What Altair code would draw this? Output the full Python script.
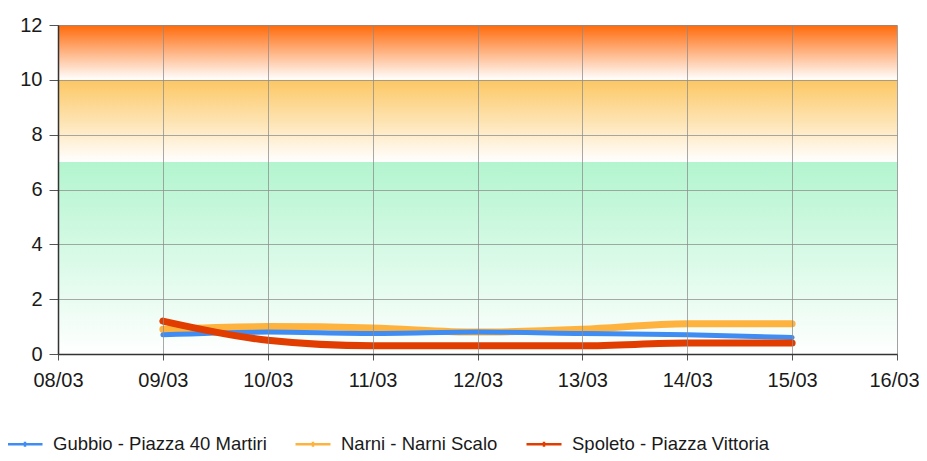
import altair as alt
import pandas as pd

# ---- data ----
x_ticks = ["08/03", "09/03", "10/03", "11/03", "12/03", "13/03", "14/03", "15/03", "16/03"]
dates = ["09/03", "10/03", "11/03", "12/03", "13/03", "14/03", "15/03"]
series_names = ["Gubbio - Piazza 40 Martiri", "Narni - Narni Scalo", "Spoleto - Piazza Vittoria"]
gubbio = [0.7, 0.8, 0.75, 0.8, 0.75, 0.7, 0.6]
narni = [0.9, 1.0, 0.95, 0.8, 0.9, 1.1, 1.1]
spoleto = [1.2, 0.5, 0.3, 0.3, 0.3, 0.4, 0.4]
series_colors = ["#3f8cf3", "#ffb33f", "#e13d00"]
y_ticks = [0, 2, 4, 6, 8, 10, 12]

band_lo = [0, 7, 10]
band_hi = [7, 10, 12]
band_top_colors = ["#b3f5cf", "#fcc763", "#ff6a0a"]

FONT = "Liberation Sans Narrow, Liberation Sans, Arial, sans-serif"

def day(s):
    return int(s[:2])

rows = []
for name, vals in zip(series_names, [gubbio, narni, spoleto]):
    for d, v in zip(dates, vals):
        rows.append({"day": day(d), "value": v, "series": name})
df = pd.DataFrame(rows)

x0, x1 = day(x_ticks[0]), day(x_ticks[-1])
label_arr = "[" + ",".join("'%s'" % t for t in x_ticks) + "]"

x_scale = alt.Scale(domain=[x0, x1], nice=False, zero=False)
y_scale = alt.Scale(domain=[y_ticks[0], y_ticks[-1]], nice=False)

x_axis = alt.Axis(
    title=None,
    values=[day(t) for t in x_ticks],
    labelExpr=label_arr + "[datum.value - %d]" % x0,
    labelFlush=False,
    labelOverlap=False,
    labelOffset={"condition": {"test": "datum.value == %d" % x1, "value": -3}, "value": 0},
    grid=True,
    gridColor="#8c8c8c",
    gridOpacity=0.75,
    domainColor="#333333",
    domainWidth=1.5,
    tickColor="#555555",
    tickSize=6,
    labelPadding=10,
    labelFont=FONT,
    labelFontSize=20,
    labelColor="#1a1a1a",
    zindex=1,
)
y_axis = alt.Axis(
    title=None,
    values=y_ticks,
    labelFlush=False,
    labelOverlap=False,
    grid=True,
    gridColor="#8c8c8c",
    gridOpacity=0.75,
    domainColor="#333333",
    domainWidth=1.5,
    tickColor="#555555",
    tickSize=9,
    labelPadding=7,
    labelFont=FONT,
    labelFontSize=20,
    labelColor="#1a1a1a",
    zindex=1,
)

layers = []
for lo, hi, col in zip(band_lo, band_hi, band_top_colors):
    bdf = pd.DataFrame([{"lo": lo, "hi": hi, "x0": x0, "x1": x1}])
    grad = alt.Gradient(
        gradient="linear",
        stops=[alt.GradientStop(color=col, offset=0), alt.GradientStop(color="#ffffff", offset=1)],
        x1=0, x2=0, y1=0, y2=1,
    )
    layers.append(
        alt.Chart(bdf).mark_rect(fill=grad, strokeWidth=0).encode(
            x=alt.X("x0:Q", scale=x_scale, axis=x_axis),
            x2="x1:Q",
            y=alt.Y("lo:Q", scale=y_scale, axis=y_axis),
            y2="hi:Q",
        )
    )

color_scale = alt.Scale(domain=series_names, range=series_colors)
legend = alt.Legend(
    title=None,
    orient="none",
    direction="horizontal",
    legendX=-52,
    legendY=400,
    symbolType="M-1,0H1M0,-0.14V0.14",
    symbolSize=1225,
    symbolStrokeWidth=2.5,
    labelFont=FONT,
    labelFontSize=18.5,
    labelColor="#1a1a1a",
    labelOffset=9,
    columnPadding=23,
    padding=0,
    labelLimit=400,
)

order = [1, 0, 2]  # orange under blue, red on top
widths = [5, 7, 7]
for i in order:
    name = series_names[i]
    layers.append(
        alt.Chart(df)
        .transform_filter(alt.datum.series == name)
        .mark_line(interpolate="monotone", strokeWidth=widths[i], strokeCap="round", strokeJoin="round")
        .encode(
            x=alt.X("day:Q", scale=x_scale, axis=x_axis),
            y=alt.Y("value:Q", scale=y_scale, axis=y_axis),
            color=alt.Color("series:N", scale=color_scale, legend=legend),
        )
    )

chart = (
    alt.layer(*layers)
    .properties(
        width=839,
        height=329,
        autosize=alt.AutoSizeParams(type="none"),
        padding={"left": 50, "top": 17, "right": 22, "bottom": 99},
    )
    .configure_view(stroke=None)
    .configure(background="#ffffff")
)

chart.save("out.html", embed_options={"renderer": "svg", "actions": False})
